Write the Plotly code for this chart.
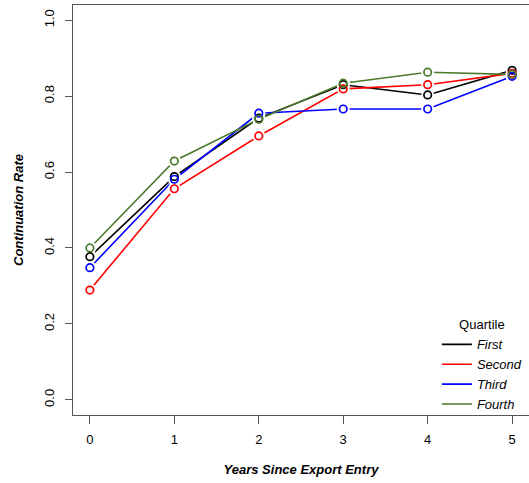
import plotly.graph_objects as go

years = [0, 1, 2, 3, 4, 5]
series_names = ["First", "Second", "Third", "Fourth"]
first = [0.377, 0.588, 0.742, 0.830, 0.803, 0.868]
second = [0.289, 0.556, 0.695, 0.819, 0.830, 0.860]
third = [0.348, 0.581, 0.755, 0.766, 0.766, 0.852]
fourth = [0.400, 0.629, 0.739, 0.834, 0.863, 0.857]
colors = ["#000000", "#FF0000", "#0000FF", "#4B7B2B"]
y_ticks = [0.0, 0.2, 0.4, 0.6, 0.8, 1.0]
y_tick_labels = ["0.0", "0.2", "0.4", "0.6", "0.8", "1.0"]

values = [first, second, third, fourth]
FONT = "Liberation Sans, Arial, Helvetica, sans-serif"

fig = go.Figure()
# lines
for name, vals, c in zip(series_names, values, colors):
    fig.add_trace(go.Scatter(x=years, y=vals, mode="lines", name=name,
                             line=dict(color=c, width=1.6), showlegend=True))
# white gaps around points (R type="b")
for name, vals, c in zip(series_names, values, colors):
    fig.add_trace(go.Scatter(x=years, y=vals, mode="markers", showlegend=False,
                             hoverinfo="skip",
                             marker=dict(color="white", size=13, line=dict(width=0))))
# open circles
for name, vals, c in zip(series_names, values, colors):
    fig.add_trace(go.Scatter(x=years, y=vals, mode="markers", showlegend=False,
                             marker=dict(symbol="circle-open", color=c, size=7.5,
                                         line=dict(width=1.7, color=c))))

fig.update_layout(
    width=529, height=483,
    margin=dict(l=73, r=0, t=5, b=68),
    plot_bgcolor="white", paper_bgcolor="white",
    font=dict(family=FONT, size=13, color="black"),
    xaxis=dict(range=[-0.2, 5.2], tickvals=years, ticktext=[str(v) for v in years],
               showgrid=False, zeroline=False, showline=True, linecolor="#555555",
               linewidth=1, mirror=True, ticks="outside", ticklen=8, tickcolor="#555555",
               ticklabelstandoff=4,
               title=dict(text="<b><i>Years Since Export Entry</i></b>", standoff=19,
                          font=dict(size=13))),
    yaxis=dict(range=[-0.04, 1.04], tickvals=y_ticks, ticktext=y_tick_labels,
               tickangle=-90,
               showgrid=False, zeroline=False, showline=True, linecolor="#555555",
               linewidth=1, mirror=False, ticks="outside", ticklen=7, tickcolor="#555555",
               ticklabelstandoff=6,
               title=dict(text="<b><i>Continuation Rate</i></b>", standoff=15,
                          font=dict(size=13))),
    legend=dict(x=0.798, xanchor="left", y=0.25, yanchor="top",
                bgcolor="rgba(0,0,0,0)", font=dict(size=13, style="italic"),
                title=dict(text="Quartile", side="top center",
                           font=dict(size=13, style="normal")),
                itemwidth=30, tracegroupgap=0),
)

fig.write_html("out.html", config={"displayModeBar": False},
               post_script="document.body.style.margin='0px';")
